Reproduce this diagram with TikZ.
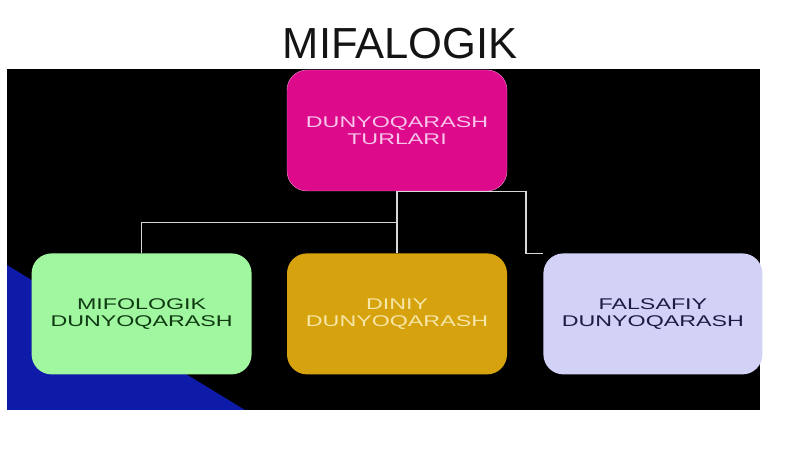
\documentclass[tikz,border=0pt]{standalone}
\usepackage{fontspec}
\setmainfont{Liberation Sans}
\newfontfamily\boxfont[FakeStretch=1.5]{Liberation Sans}
\usepackage{tikz}
\usetikzlibrary{positioning,calc}
\definecolor{mfink}{HTML}{141414}
\definecolor{mfblue}{HTML}{0D1BA8}
\definecolor{mftop}{HTML}{DD0A8C}
\definecolor{mftoptext}{HTML}{F7C4EA}
\definecolor{mfgreen}{HTML}{A0F7A0}
\definecolor{mfgreentext}{HTML}{0F3A12}
\definecolor{mfgold}{HTML}{D6A20E}
\definecolor{mfgoldtext}{HTML}{F6E6A8}
\definecolor{mflav}{HTML}{D2D2F6}
\definecolor{mflavtext}{HTML}{1C1C44}
\definecolor{mflink}{HTML}{D8D8D8}
\tikzset{
  box/.style    = {rectangle, rounded corners=20pt, align=center,
                   minimum width=220pt, minimum height=121pt, inner sep=4pt,
                   font=\boxfont\fontsize{15.5}{17}\selectfont},
  topbox/.style = {box, fill=mftop, draw=mftoptext!70!mftop, text=mftoptext},
  mifo/.style   = {box, fill=mfgreen, text=mfgreentext},
  dini/.style   = {box, fill=mfgold, text=mfgoldtext},
  fals/.style   = {box, fill=mflav, text=mflavtext, minimum width=219pt},
  link/.style   = {draw=mflink, line width=1.3pt},
}

\begin{document}
\begin{tikzpicture}[x=1pt, y=1pt, node distance=35pt]
\useasboundingbox (0,0) rectangle (800,449);

% --- background
\fill[black] (7,39) rectangle (760,380);
\fill[mfblue] (7,184) -- (245,39) -- (7,39) -- cycle;

% --- title
\node[anchor=base, font=\fontsize{43.5}{48}\selectfont, text=mfink] (title) at (400,390) {MIFALOGIK};

% --- boxes
\node[topbox] (turlari) at (397,318.5) {DUNYOQARASH\\TURLARI};
\node[dini, below=62pt of turlari] (diniy) {DINIY\\DUNYOQARASH};
\node[mifo, left=35pt of diniy] (mifologik) {MIFOLOGIK\\DUNYOQARASH};
\node[fals, right=36pt of diniy] (falsafiy) {FALSAFIY\\DUNYOQARASH};

% --- links
\coordinate (split) at ($(turlari.south)+(0,-31)$);
\coordinate (bend) at ($(turlari.south)+(129,0)$);
\draw[link] (turlari.south) -- (split) -| (mifologik.north);
\draw[link] (split) -- (diniy.north);
\draw[link] (turlari.south) -- (bend) |- (falsafiy.north west);

\end{tikzpicture}
\end{document}
